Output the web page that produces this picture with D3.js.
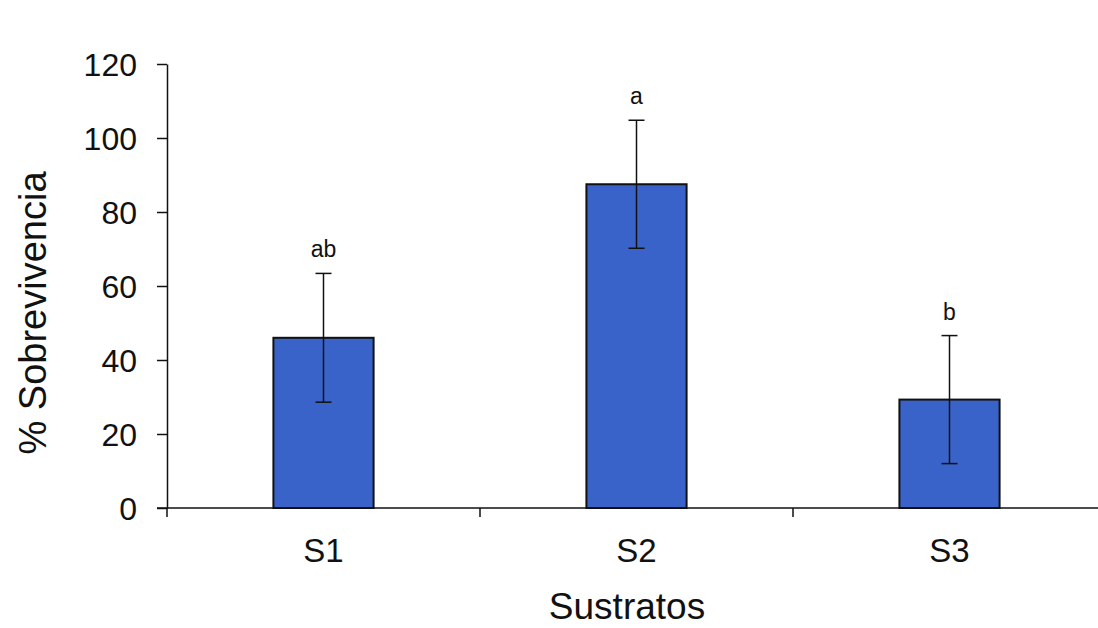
<!DOCTYPE html>
<meta charset="utf-8">
<style>
body { margin: 0; background: #fff; }
svg text { font-family: "Liberation Sans", Arial, sans-serif; fill: #111; }
.axis path, .axis line { stroke: #111; stroke-width: 1.5px; }
</style>
<body>
<script src="https://d3js.org/d3.v7.min.js"></script>
<script>

// data
var sustratos = ["S1", "S2", "S3"];
var sobrevivencia = [46, 87.5, 29.3];
var errores = [17.4, 17.3, 17.3];
var letras = ["ab", "a", "b"];
var yTicks = [0, 20, 40, 60, 80, 100, 120];

var W = 1098, H = 628;
var margin = {top: 64, left: 167, bottom: 120};

var svg = d3.select("body").append("svg")
    .attr("width", W)
    .attr("height", H);

// scales
var x = d3.scaleBand()
    .domain(sustratos)
    .range([margin.left, 1106])
    .paddingInner(0.68)
    .paddingOuter(0.34);

var y = d3.scaleLinear()
    .domain([0, 120])
    .range([H - margin.bottom, margin.top]);

var data = sustratos.map(function(s, i) {
  return {s: s, v: sobrevivencia[i], e: errores[i], l: letras[i]};
});

// bars
svg.selectAll(".bar")
    .data(data)
  .enter().append("rect")
    .attr("class", "bar")
    .attr("x", function(d) { return x(d.s); })
    .attr("width", x.bandwidth())
    .attr("y", function(d) { return y(d.v); })
    .attr("height", function(d) { return y(0) - y(d.v); })
    .style("fill", "#3a63c9")
    .style("stroke", "#111")
    .style("stroke-width", 2);

// error bars
var cx = function(d) { return x(d.s) + x.bandwidth() / 2; };
var eb = svg.selectAll(".err").data(data).enter().append("g")
    .attr("class", "err")
    .style("stroke", "#111")
    .style("stroke-width", 1.5);
eb.append("line")
    .attr("x1", cx).attr("x2", cx)
    .attr("y1", function(d) { return y(d.v + d.e); })
    .attr("y2", function(d) { return y(d.v - d.e); });
eb.append("line")
    .attr("x1", function(d) { return cx(d) - 8; })
    .attr("x2", function(d) { return cx(d) + 8; })
    .attr("y1", function(d) { return y(d.v + d.e); })
    .attr("y2", function(d) { return y(d.v + d.e); });
eb.append("line")
    .attr("x1", function(d) { return cx(d) - 8; })
    .attr("x2", function(d) { return cx(d) + 8; })
    .attr("y1", function(d) { return y(d.v - d.e); })
    .attr("y2", function(d) { return y(d.v - d.e); });

// significance letters
svg.selectAll(".letra")
    .data(data)
  .enter().append("text")
    .attr("x", cx)
    .attr("y", function(d) { return y(d.v + d.e) - 16; })
    .attr("text-anchor", "middle")
    .style("font-size", "23px")
    .text(function(d) { return d.l; });

// y axis
var yAxis = svg.append("g")
    .attr("class", "axis")
    .attr("transform", "translate(" + margin.left + ",0)")
    .call(d3.axisLeft(y).tickValues(yTicks).tickSize(10).tickSizeOuter(0).tickPadding(20));
yAxis.selectAll("text").style("font-size", "32px").attr("dy", "0.36em");

// x axis: line with ticks at band boundaries
var xAxis = svg.append("g").attr("class", "axis");
xAxis.append("line")
    .attr("x1", margin.left - 10).attr("x2", W)
    .attr("y1", y(0)).attr("y2", y(0));
var bounds = sustratos.map(function(s) { return x(s) - x.step() * x.paddingInner() / 2; });
xAxis.selectAll(".tk").data(bounds).enter().append("line")
    .attr("x1", function(d) { return d; }).attr("x2", function(d) { return d; })
    .attr("y1", y(0)).attr("y2", y(0) + 9);
xAxis.selectAll(".lbl").data(sustratos).enter().append("text")
    .attr("x", function(d) { return x(d) + x.bandwidth() / 2; })
    .attr("y", y(0) + 54)
    .attr("text-anchor", "middle")
    .style("font-size", "33px")
    .text(function(d) { return d; });

// axis titles
svg.append("text")
    .attr("x", 627)
    .attr("y", 619)
    .attr("text-anchor", "middle")
    .style("font-size", "37px")
    .text("Sustratos");

svg.append("text")
    .attr("transform", "translate(46," + 313 + ") rotate(-90)")
    .attr("text-anchor", "middle")
    .style("font-size", "38px")
    .text("% Sobrevivencia");

</script>
</body>
